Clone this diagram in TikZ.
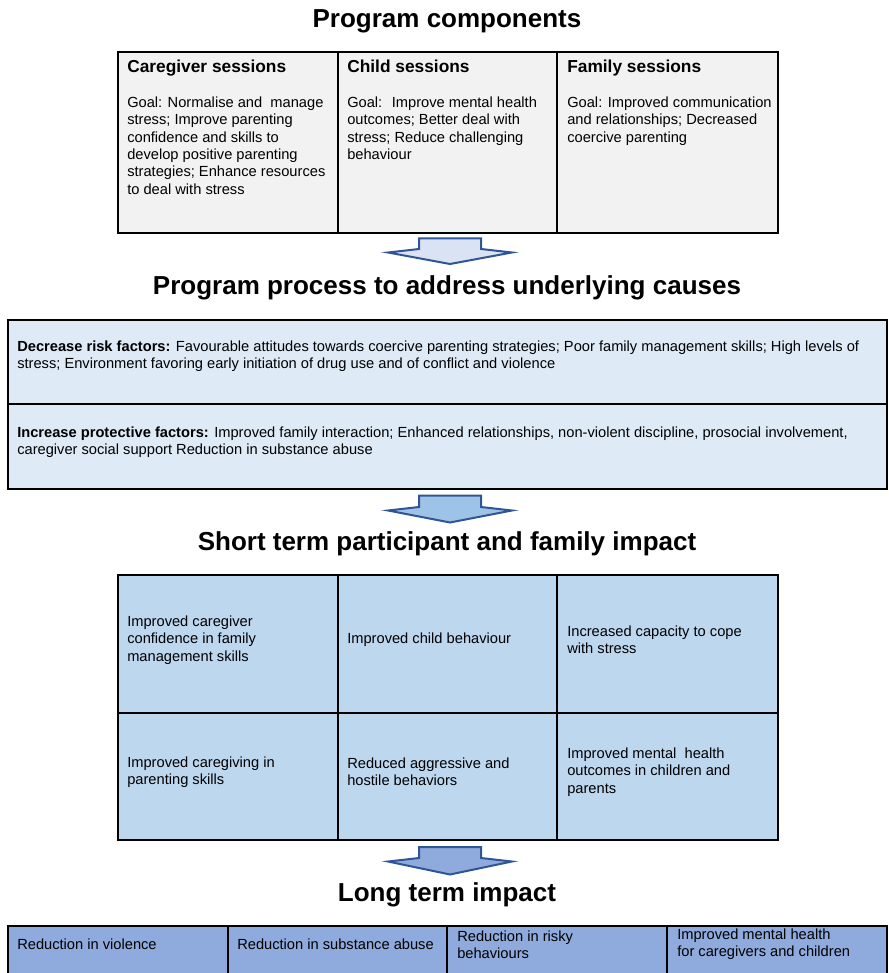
\documentclass[tikz,border=0pt]{standalone}
\usepackage{fontspec}
\setmainfont{Liberation Sans}
\definecolor{compgray}{HTML}{F2F2F2}
\definecolor{procblue}{HTML}{DEEBF7}
\definecolor{shortblue}{HTML}{BDD7EE}
\definecolor{longblue}{HTML}{8FAADC}
\definecolor{arrowedge}{HTML}{2F5597}
\definecolor{arrowfillA}{HTML}{DAE3F3}
\definecolor{arrowfillB}{HTML}{9DC3E6}
\definecolor{arrowfillC}{HTML}{8FAADC}
\begin{document}
\begin{tikzpicture}[x=0.75pt,y=-0.75pt,
  heading/.style={font=\fontsize{19.5}{23}\selectfont\bfseries, anchor=base, inner sep=0pt},
  colhead/.style={font=\fontsize{13}{15}\selectfont\bfseries, anchor=base west, inner sep=0pt},
  celltext/.style={font=\fontsize{11}{13}\selectfont, align=left, inner sep=0pt},
  blockarrow/.style={draw=arrowedge, line width=1.5pt, line join=miter},
  grid/.style={draw=black, line width=1.4pt}]
\useasboundingbox (0,0) rectangle (888,973);
\clip (0,0) rectangle (888,973);

% program components
\node (t-comp) [heading] at (447,27.5) {Program components};
\draw[grid, fill=compgray] (118,52) rectangle (778,233);
\draw[grid] (338,52) -- (338,233);
\draw[grid] (557,52) -- (557,233);

\node (cg-head) [colhead] at (127,73) {Caregiver sessions};
\node (ch-head) [colhead] at (347,73) {Child sessions};
\node (fa-head) [colhead] at (567,73) {Family sessions};
\node (cg-goal) [celltext, anchor=north west] at (127,96.5) {Goal: Normalise and \ manage\\stress; Improve parenting\\confidence and skills to\\develop positive parenting\\strategies; Enhance resources\\to deal with stress};
\node (ch-goal) [celltext, anchor=north west] at (347,96.5) {Goal: \ Improve mental health\\outcomes; Better deal with\\stress; Reduce challenging\\behaviour};
\node (fa-goal) [celltext, anchor=north west] at (567,96.5) {Goal: Improved communication\\and relationships; Decreased\\coercive parenting};

\draw[blockarrow, fill=arrowfillA] (419,238.5) -- (481,238.5) -- (481,249) -- (512,252.5) -- (450,264) -- (388,252.5) -- (419,249) -- cycle;

% program process
\node (t-proc) [heading] at (447,294.5) {Program process to address underlying causes};
\draw[grid, fill=procblue] (8,320) rectangle (887,489);
\draw[grid] (8,404) -- (887,404);
\node (risk) [celltext, anchor=north west] at (17,340.5) {\textbf{Decrease risk factors:} Favourable attitudes towards coercive parenting strategies; Poor family management skills; High levels of\\stress; Environment favoring early initiation of drug use and of conflict and violence};
\node (protect) [celltext, anchor=north west] at (17,426.5) {\textbf{Increase protective factors:} Improved family interaction; Enhanced relationships, non-violent discipline, prosocial involvement,\\caregiver social support Reduction in substance abuse};

\draw[blockarrow, fill=arrowfillB] (419,495.5) -- (481,495.5) -- (481,507) -- (512,510.5) -- (450,522.5) -- (388,510.5) -- (419,507) -- cycle;

% short term impact
\node (t-short) [heading] at (447,550.5) {Short term participant and family impact};
\draw[grid, fill=shortblue] (118,575) rectangle (778,840);
\draw[grid] (118,713) -- (778,713);
\draw[grid] (338,575) -- (338,840);
\draw[grid] (557,575) -- (557,840);

\node (st-conf) [celltext, anchor=west] at (127,640) {Improved caregiver\\confidence in family\\management skills};
\node (st-child) [celltext, anchor=west] at (347,640) {Improved child behaviour};
\node (st-cope) [celltext, anchor=west] at (567,640) {Increased capacity to cope\\with stress};
\node (st-care) [celltext, anchor=west] at (127,772) {Improved caregiving in\\parenting skills};
\node (st-aggr) [celltext, anchor=west] at (347,772) {Reduced aggressive and\\hostile behaviors};
\node (st-ment) [celltext, anchor=west] at (567,772) {Improved mental \ health\\outcomes in children and\\parents};

\draw[blockarrow, fill=arrowfillC] (419,847) -- (481,847) -- (481,858) -- (512,861.5) -- (450,874.5) -- (388,861.5) -- (419,858) -- cycle;

% long term impact
\node (t-long) [heading] at (447,901.5) {Long term impact};
\draw[grid, fill=longblue] (8,926) rectangle (887,1000);
\draw[grid] (228,926) -- (228,1000);
\draw[grid] (447,926) -- (447,1000);
\draw[grid] (667,926) -- (667,1000);

\node (lt-viol) [celltext, anchor=west] at (17,944.5) {Reduction in violence};
\node (lt-subs) [celltext, anchor=west] at (237,944.5) {Reduction in substance abuse};
\node (lt-risk) [celltext, anchor=west] at (457,944.5) {Reduction in risky\\behaviours};
\node (lt-ment) [celltext, anchor=west] at (677,944.5) {Improved mental health\\for caregivers and children};

\end{tikzpicture}
\end{document}
